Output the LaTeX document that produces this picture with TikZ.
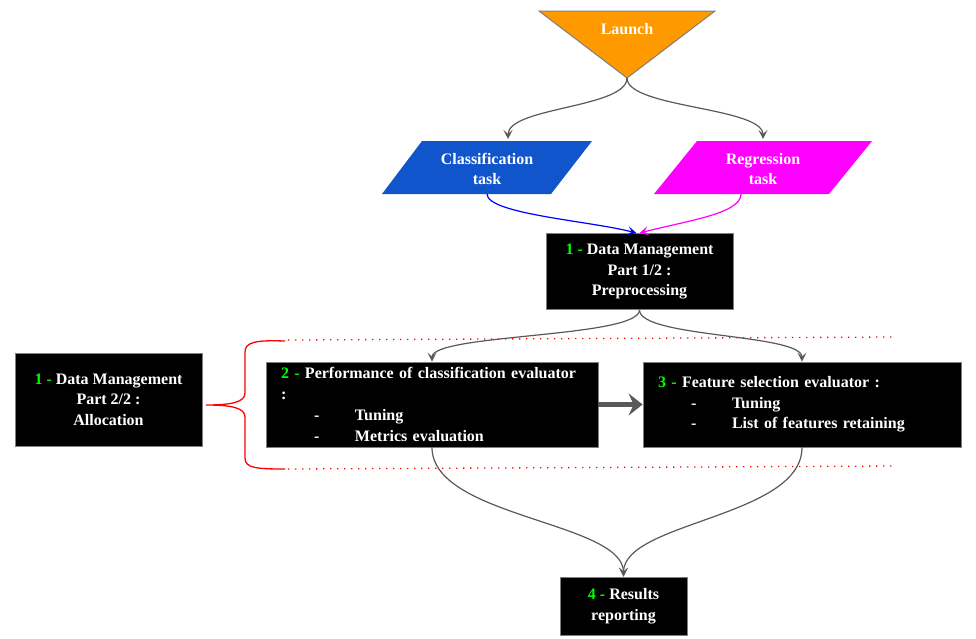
\documentclass[tikz,border=0pt]{standalone}
\usepackage{fontspec}
\setmainfont{Liberation Serif}
\usetikzlibrary{arrows.meta}
\definecolor{launchorange}{HTML}{FF9900}
\definecolor{clsblue}{HTML}{1155CC}
\definecolor{regmagenta}{HTML}{FF00FF}
\definecolor{numgreen}{HTML}{00FF00}
\definecolor{linkgray}{HTML}{595959}
\definecolor{edgegray}{HTML}{7F7F7F}
\newcommand{\stepnum}[1]{\textcolor{numgreen}{#1 -}}
\newcommand{\bullitem}[1]{\hspace*{33pt}\makebox[41pt][l]{-}#1}
\begin{document}
\begin{tikzpicture}[x=1pt,y=-1pt,
  every node/.style={font=\fontsize{16}{20.7}\selectfont\bfseries, text=white},
  blackbox/.style={draw=edgegray, line width=0.8pt, fill=black, align=center, inner sep=0pt},
  listbox/.style={draw=edgegray, line width=0.8pt, fill=black, align=left, inner xsep=15pt, inner ysep=0pt, minimum height=85pt},
  link/.style={draw=linkgray, line width=1.2pt, -{Stealth[length=9pt,width=9pt,inset=4pt]}},
  bigarrow/.style={draw=linkgray, line width=5pt, -{Stealth[length=14pt,width=22pt,inset=5pt]}},
  brace/.style={draw=red, line width=1.3pt},
  guide/.style={draw=red, line width=1.3pt, dash pattern=on 1.3pt off 5.7pt}
]
\useasboundingbox (0,0) rectangle (976,638);

% launch triangle
\draw[draw=edgegray, line width=1pt, fill=launchorange] (539,11) -- (715,11) -- (627,78) -- cycle;
\node (launch) at (627,29) {Launch};
\coordinate (launchtip) at (627,78);

% task parallelograms
\fill[clsblue] (382,194) -- (422,141) -- (592,141) -- (551,194) -- cycle;
\node[align=center] (cls) at (487,169) {Classification\\task};
\coordinate (clstop) at (508,139);
\coordinate (clsbot) at (487,194);

\fill[regmagenta] (654,194) -- (697,141) -- (872,141) -- (829,194) -- cycle;
\node[align=center] (reg) at (763,169) {Regression\\task};
\coordinate (regtop) at (763,139);
\coordinate (regbot) at (741,194);

% processing steps
\node[blackbox, minimum width=187pt, minimum height=76pt] (dm1) at (639.5,271.5)
  {\stepnum{1} Data Management\\Part 1/2 :\\Preprocessing};
\node[blackbox, minimum width=187pt, minimum height=93pt] (dm2) at (108.5,399.5)
  {\stepnum{1} Data Management\\Part 2/2 :\\Allocation};
\node[listbox, text width=302pt] (perf) at (432,404.5)
  {\mbox{\stepnum{2} Performance of classification evaluator}\\:\\\bullitem{Tuning}\\\bullitem{Metrics evaluation}};
\node[listbox, text width=288pt] (feat) at (802,404.5)
  {\stepnum{3} Feature selection evaluator :\\\bullitem{Tuning}\\\bullitem{List of features retaining}};
\node[blackbox, minimum width=127pt, minimum height=58pt] (res) at (623.5,606)
  {\stepnum{4} Results\\reporting};

% brace grouping the evaluators
\coordinate (bracetip) at (206,405);
\draw[brace] (285,341) .. controls (256,340) and (245,342) .. (245,352) -- (245,393)
  .. controls (245,402) and (232,405) .. (bracetip)
  .. controls (232,405) and (245,408) .. (245,417) -- (245,458)
  .. controls (245,468) and (256,469) .. (285,469);
\draw[guide] (288,340) -- (892,337);
\draw[guide] (288,469) -- (895,466);

% connectors
\draw[link] (launchtip) .. controls +(0,30) and +(0,-32) .. (clstop);
\draw[link] (launchtip) .. controls +(0,30) and +(0,-32) .. (regtop);
\draw[link, draw=blue] (clsbot) .. controls +(0,20) and +(-45,-12) .. ([xshift=-3pt]dm1.north);
\draw[link, draw=regmagenta] (regbot) .. controls +(0,20) and +(45,-12) .. ([xshift=0pt]dm1.north);
\draw[link] (dm1.south) .. controls +(0,28) and +(0,-28) .. (perf.north);
\draw[link] (dm1.south) .. controls +(0,28) and +(0,-28) .. (feat.north);
\draw[bigarrow] (perf.east) -- (feat.west);
\draw[link] (perf.south) .. controls +(0,70) and +(0,-55) .. (res.north);
\draw[link] (feat.south) .. controls +(0,70) and +(0,-55) .. (res.north);
\end{tikzpicture}
\end{document}
